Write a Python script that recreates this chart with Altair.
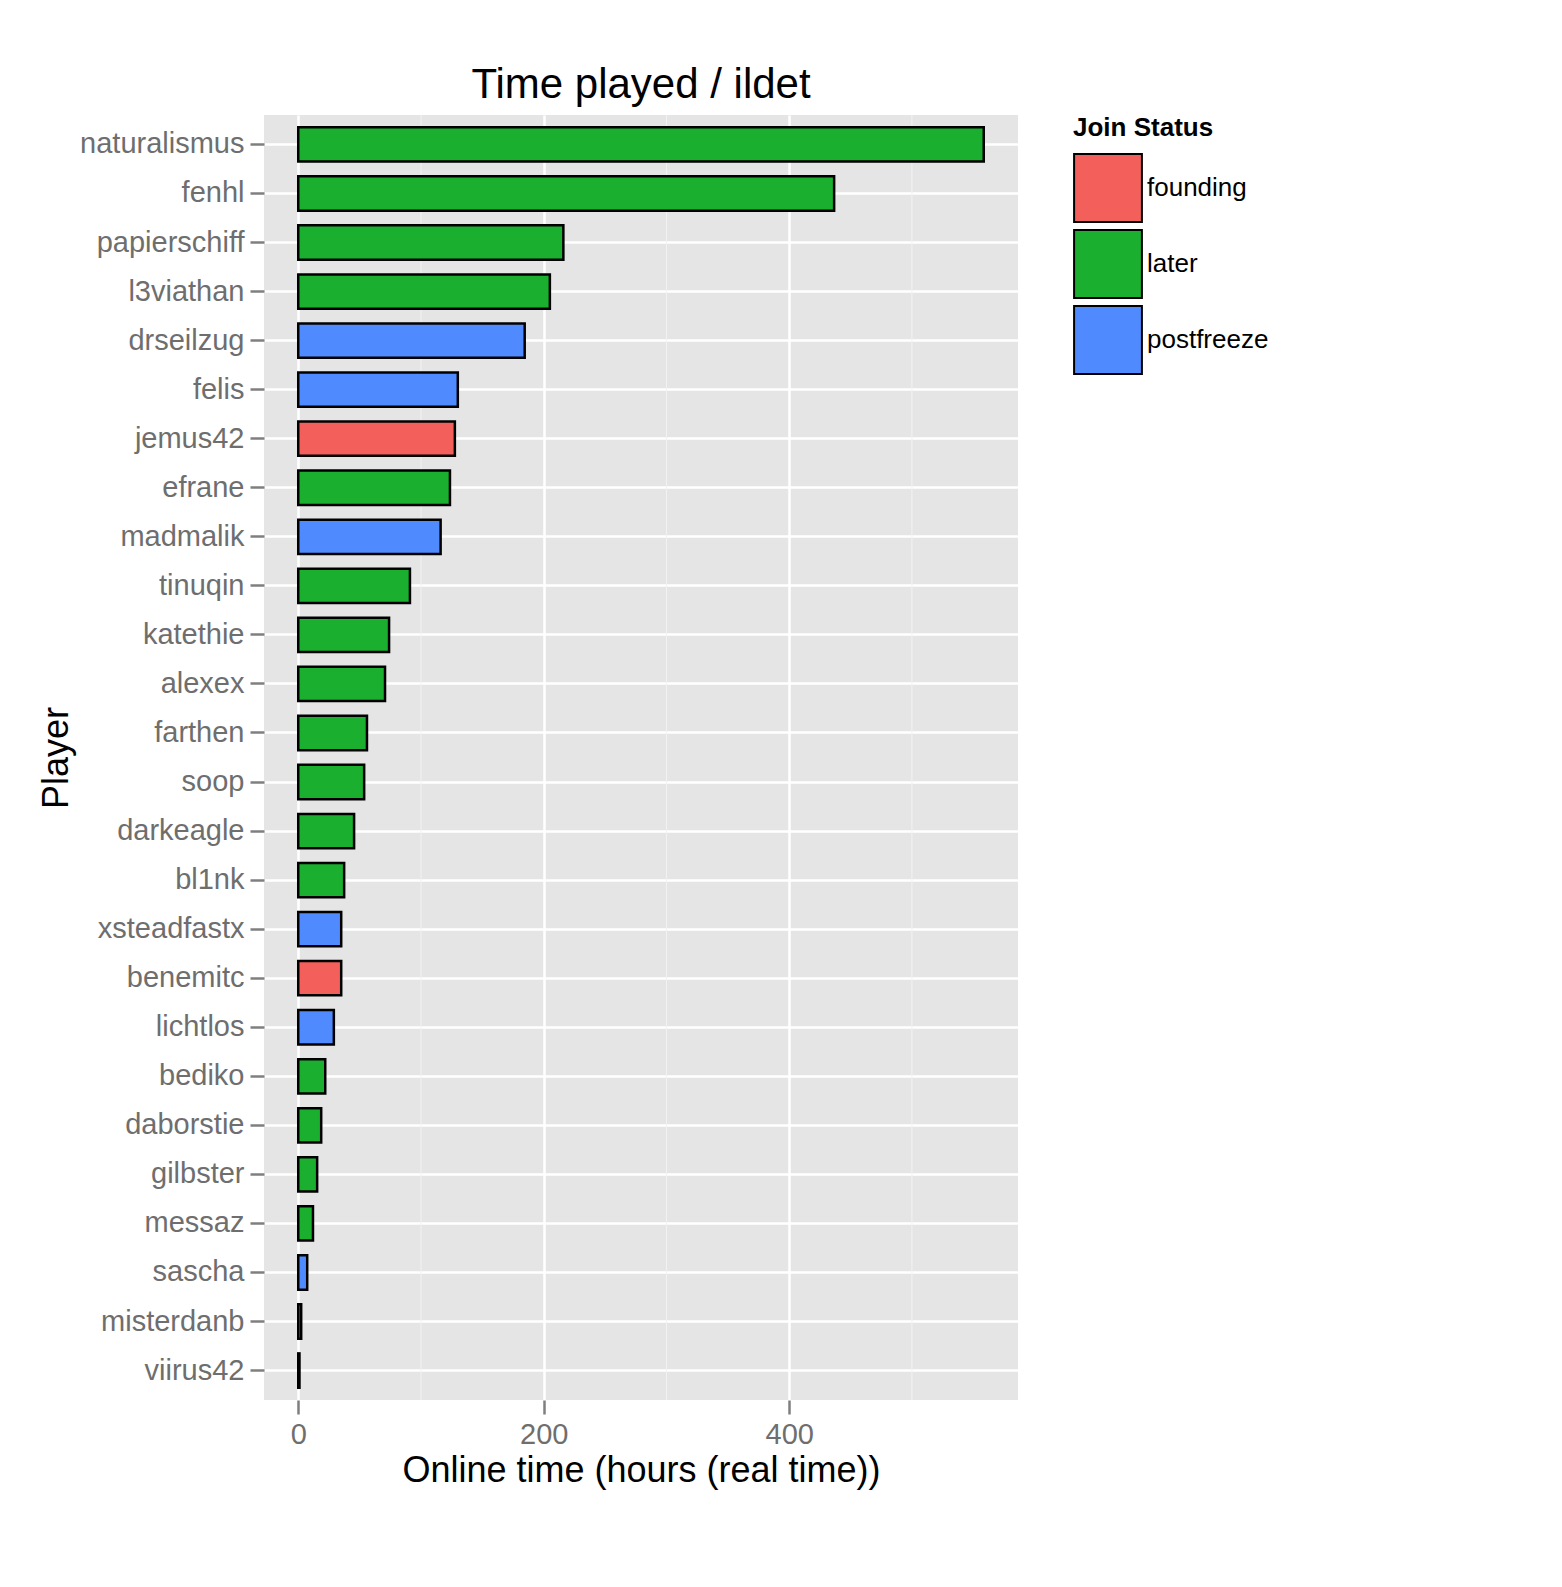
import altair as alt
import pandas as pd

players = ["naturalismus", "fenhl", "papierschiff", "l3viathan", "drseilzug", "felis",
           "jemus42", "efrane", "madmalik", "tinuqin", "katethie", "alexex", "farthen",
           "soop", "darkeagle", "bl1nk", "xsteadfastx", "benemitc", "lichtlos", "bediko",
           "daborstie", "gilbster", "messaz", "sascha", "misterdanb", "viirus42"]
hours = [558.5, 436.6, 216, 205, 184.5, 130, 127.6, 123.6, 116, 91, 74, 70.7, 56,
         53.7, 45.5, 37.4, 35, 35, 29, 22, 18.7, 15.4, 12, 7.3, 2.4, 1]
status = ["later", "later", "later", "later", "postfreeze", "postfreeze", "founding",
          "later", "postfreeze", "later", "later", "later", "later", "later", "later",
          "later", "postfreeze", "founding", "postfreeze", "later", "later", "later",
          "later", "postfreeze", "later", "later"]
minor_ticks = [100, 300, 500]

df = pd.DataFrame({"player": players, "hours": hours, "status": status})
minor = pd.DataFrame({"v": minor_ticks})

xscale = alt.Scale(domain=[-27.9, 586.4], nice=False, zero=False)

grid_minor = alt.Chart(minor).mark_rule(color="#F2F2F2", strokeWidth=1).encode(
    x=alt.X("v:Q", scale=xscale)
)

bars = alt.Chart(df).mark_bar(stroke="black", strokeWidth=2.5).encode(
    x=alt.X("hours:Q", scale=xscale, title="Online time (hours (real time))",
            axis=alt.Axis(values=[0, 200, 400], grid=True, gridColor="white",
                          gridWidth=2.5)),
    y=alt.Y("player:N", sort=players, title="Player",
            scale=alt.Scale(paddingInner=0.3, paddingOuter=0.25),
            axis=alt.Axis(grid=True, gridColor="white", gridWidth=2.5)),
    color=alt.Color("status:N", title="Join Status",
                    scale=alt.Scale(domain=["founding", "later", "postfreeze"],
                                    range=["#F35F5A", "#1AAF2E", "#4F8BFF"])),
)

chart = (grid_minor + bars).properties(
    width=754, height=1285,
    padding={"left": 30, "top": 55, "right": 20, "bottom": 20},
    title=alt.Title("Time played / ildet", fontSize=42, font="Liberation Sans",
                    fontWeight="normal", color="black", offset=8),
).configure_view(
    fill="#E5E5E5", stroke=None
).configure_axis(
    domain=False, tickColor="#7F7F7F", tickSize=14, tickWidth=2.5,
    labelFont="Liberation Sans", labelFontSize=29, labelColor="#6E6E6E",
    titleFont="Liberation Sans", titleFontSize=36, titleFontWeight="normal",
    titleColor="black", labelPadding=6,
).configure_legend(
    titleFont="Liberation Sans", titleFontSize=26, titleColor="black",
    labelFont="Liberation Sans", labelFontSize=26, labelColor="black",
    symbolType="square", symbolSize=4600, symbolStrokeColor="black",
    symbolStrokeWidth=2, symbolOpacity=1, rowPadding=0, orient="right",
    offset=55, padding=0, titlePadding=12, direction="vertical",
)

chart.save("out.html", embed_options={"renderer": "svg", "actions": False})
